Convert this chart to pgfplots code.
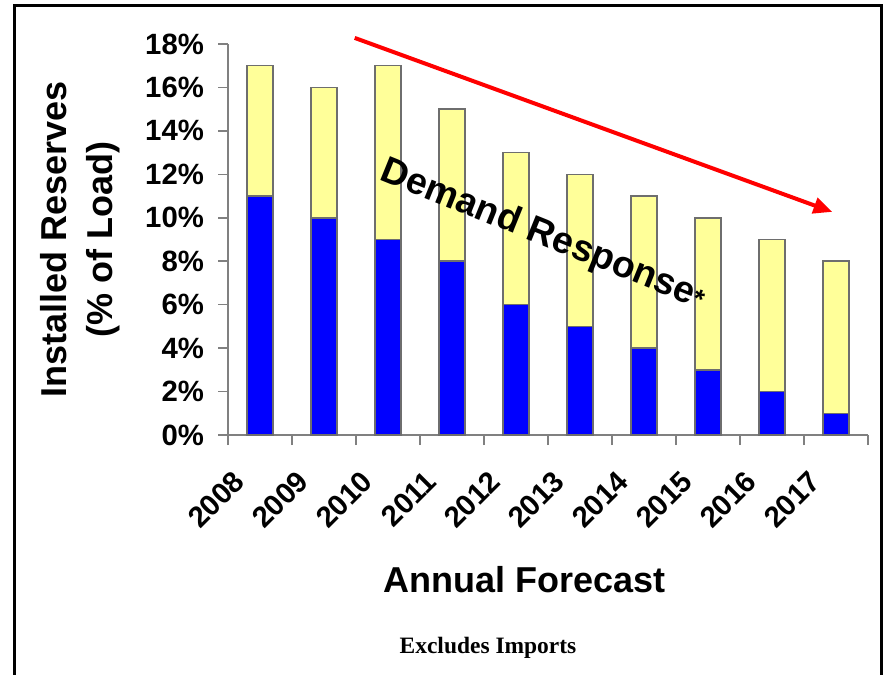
\documentclass[border=0pt]{standalone}
\usepackage{pgfplots}
\pgfplotsset{compat=1.18}
\usepackage{fontspec}
\setmainfont{Liberation Sans}
\newfontfamily\serifbf{Liberation Serif}
\usetikzlibrary{arrows.meta}
\definecolor{drblue}{HTML}{0000FF}
\definecolor{dryellow}{HTML}{FFFF99}
\definecolor{edgegray}{HTML}{6E6E6E}
\definecolor{axgray}{HTML}{808080}

\begin{document}
\begin{tikzpicture}
\useasboundingbox (0,0) rectangle (665.25pt,-505.5pt);
% frame (open at the bottom)
\draw[line width=2.25pt] (10.5pt,-506pt) -- (10.5pt,-4.5pt) -- (661.2pt,-4.5pt) -- (661.2pt,-506pt);

\begin{axis}[
    at={(171pt,-326.25pt)}, anchor=south west,
    scale only axis, width=480pt, height=293.25pt,
    ybar stacked, bar width=19.5pt,
    xmin=-0.5, xmax=9.5, ymin=0, ymax=18,
    axis lines*=left,
    axis line style={axgray, line width=1.1pt},
    xtick={0,...,9},
    xticklabels={2008,2009,2010,2011,2012,2013,2014,2015,2016,2017},
    major x tick style={draw=none},
    minor xtick={-0.5,0.5,...,9.5},
    tick align=outside,
    major tick length=7.5pt, minor tick length=7.5pt,
    every tick/.style={axgray, line width=1.1pt},
    ytick={0,2,...,18},
    yticklabels={0\%,2\%,4\%,6\%,8\%,10\%,12\%,14\%,16\%,18\%},
    ticklabel style={font=\fontsize{22}{22}\selectfont\bfseries},
    yticklabel style={xshift=-7pt},
    xticklabel style={xshift=-13pt, yshift=-21pt, rotate=45, anchor=east},
    ylabel={Installed Reserves\\(\% of Load)},
    ylabel style={at={(axis description cs:-0.231,0.5)}, anchor=center, align=center,
        font=\fontsize{27}{35}\selectfont\bfseries},
    xlabel={Annual Forecast},
    xlabel style={at={(axis description cs:0.464,-0.371)}, anchor=center,
        font=\fontsize{27}{30}\selectfont\bfseries},
    clip=false,
]
\addplot[fill=drblue, draw=edgegray, line width=1.1pt]
    coordinates {(0,11) (1,10) (2,9) (3,8) (4,6) (5,5) (6,4) (7,3) (8,2) (9,1)};
\addplot[fill=dryellow, draw=edgegray, line width=1.1pt]
    coordinates {(0,6) (1,6) (2,8) (3,7) (4,7) (5,7) (6,7) (7,7) (8,7) (9,7)};

% anchors for the annotations (drawn on top after the axis)
\coordinate (arrA) at (axis cs:1.48,18.28);
\coordinate (arrB) at (axis cs:8.94,10.27);
\coordinate (drtxt) at (axis cs:4.42,9.2);
\end{axis}

\draw[red, line width=3pt, -{Triangle[length=14pt,width=12pt]}] (arrA) -- (arrB);
\node[rotate=-22, font=\fontsize{28}{28}\selectfont\bfseries]
    at (drtxt) {Demand Response{\fontsize{20}{20}\selectfont*}};

\node[font=\serifbf\bfseries\fontsize{17.6}{20}\selectfont] at (366pt,-486pt) {Excludes Imports};
\end{tikzpicture}
\end{document}
